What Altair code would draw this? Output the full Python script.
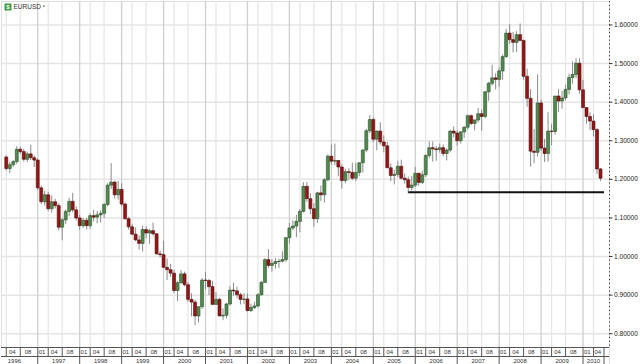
import altair as alt
import pandas as pd

symbol = "EURUSD"
first_month = "1996-04"

open_ = [
    1.258, 1.228, 1.238, 1.246, 1.278, 1.272, 1.252, 1.266, 1.256,
    1.250, 1.178, 1.142, 1.160, 1.124, 1.142, 1.132, 1.076, 1.095, 1.117, 1.143, 1.121,
    1.100, 1.080, 1.094, 1.080, 1.106, 1.102, 1.108, 1.112, 1.135, 1.185, 1.193, 1.160,
    1.174, 1.136, 1.098, 1.077, 1.058, 1.043, 1.034, 1.070, 1.061, 1.067, 1.059, 1.007,
    1.005, 0.972, 0.966, 0.957, 0.912, 0.932, 0.955, 0.927, 0.889, 0.882, 0.846, 0.870,
    0.939, 0.938, 0.922, 0.876, 0.889, 0.846, 0.848, 0.877, 0.913, 0.911, 0.901, 0.889,
    0.890, 0.860, 0.868, 0.872, 0.901, 0.933, 0.992, 0.977, 0.982, 0.987, 0.988, 0.992,
    1.049, 1.074, 1.079, 1.091, 1.117, 1.182, 1.150, 1.124, 1.098, 1.165, 1.160, 1.199,
    1.260, 1.247, 1.249, 1.232, 1.197, 1.220, 1.218, 1.203, 1.218, 1.243, 1.276, 1.326,
    1.355, 1.304, 1.325, 1.297, 1.287, 1.230, 1.210, 1.213, 1.234, 1.203, 1.199, 1.179,
    1.185, 1.216, 1.192, 1.212, 1.262, 1.282, 1.279, 1.277, 1.282, 1.267, 1.276, 1.325,
    1.320, 1.300, 1.323, 1.335, 1.365, 1.345, 1.354, 1.370, 1.363, 1.427, 1.449, 1.463,
    1.459, 1.481, 1.518, 1.579, 1.562, 1.555, 1.575, 1.560, 1.467, 1.410, 1.273, 1.270,
    1.398, 1.281, 1.267, 1.325, 1.324, 1.416, 1.403, 1.411, 1.433, 1.464, 1.472, 1.501,
    1.432, 1.386, 1.363, 1.351, 1.329, 1.227,
]
high_ = [
    1.262, 1.245, 1.250, 1.286, 1.285, 1.279, 1.272, 1.290, 1.262,
    1.254, 1.184, 1.170, 1.168, 1.158, 1.150, 1.138, 1.100, 1.122, 1.152, 1.165, 1.130,
    1.108, 1.100, 1.100, 1.112, 1.121, 1.118, 1.120, 1.138, 1.190, 1.242, 1.196, 1.196,
    1.190, 1.140, 1.103, 1.085, 1.075, 1.055, 1.080, 1.079, 1.072, 1.088, 1.060, 1.015,
    1.041, 0.995, 0.981, 0.966, 0.937, 0.965, 0.961, 0.934, 0.905, 0.888, 0.870, 0.944,
    0.960, 0.942, 0.937, 0.908, 0.893, 0.866, 0.880, 0.923, 0.932, 0.922, 0.906, 0.905,
    0.904, 0.878, 0.883, 0.905, 0.937, 0.996, 1.019, 0.993, 0.996, 0.994, 1.014, 1.050,
    1.087, 1.094, 1.108, 1.123, 1.193, 1.193, 1.164, 1.138, 1.168, 1.184, 1.203, 1.265,
    1.290, 1.293, 1.250, 1.239, 1.228, 1.229, 1.243, 1.243, 1.244, 1.278, 1.331, 1.367,
    1.360, 1.327, 1.348, 1.314, 1.297, 1.241, 1.225, 1.248, 1.251, 1.215, 1.207, 1.209,
    1.232, 1.216, 1.222, 1.264, 1.298, 1.298, 1.286, 1.293, 1.290, 1.280, 1.328, 1.337,
    1.327, 1.325, 1.338, 1.368, 1.368, 1.355, 1.385, 1.381, 1.428, 1.453, 1.497, 1.475,
    1.490, 1.524, 1.590, 1.602, 1.582, 1.584, 1.604, 1.562, 1.487, 1.434, 1.330, 1.472,
    1.406, 1.305, 1.374, 1.344, 1.416, 1.434, 1.429, 1.445, 1.474, 1.506, 1.514, 1.514,
    1.458, 1.387, 1.374, 1.369, 1.333, 1.229,
]
low_ = [
    1.222, 1.216, 1.232, 1.240, 1.266, 1.246, 1.245, 1.250, 1.232,
    1.172, 1.136, 1.132, 1.118, 1.114, 1.125, 1.068, 1.042, 1.085, 1.105, 1.115, 1.094,
    1.070, 1.074, 1.070, 1.072, 1.091, 1.086, 1.088, 1.100, 1.130, 1.175, 1.150, 1.148,
    1.130, 1.095, 1.070, 1.055, 1.040, 1.018, 1.013, 1.047, 1.033, 1.054, 1.005, 0.998,
    0.970, 0.939, 0.948, 0.905, 0.885, 0.930, 0.923, 0.883, 0.845, 0.8225, 0.829, 0.864,
    0.915, 0.900, 0.875, 0.876, 0.845, 0.835, 0.840, 0.873, 0.898, 0.892, 0.876, 0.877,
    0.858, 0.856, 0.864, 0.868, 0.899, 0.932, 0.971, 0.961, 0.969, 0.970, 0.985, 0.986,
    1.034, 1.069, 1.050, 1.063, 1.114, 1.142, 1.110, 1.077, 1.087, 1.144, 1.140, 1.195,
    1.238, 1.237, 1.208, 1.176, 1.190, 1.199, 1.198, 1.195, 1.208, 1.218, 1.270, 1.320,
    1.296, 1.275, 1.290, 1.270, 1.229, 1.195, 1.187, 1.206, 1.200, 1.189, 1.164, 1.171,
    1.180, 1.183, 1.188, 1.206, 1.255, 1.246, 1.248, 1.269, 1.260, 1.249, 1.270, 1.309,
    1.287, 1.293, 1.307, 1.329, 1.341, 1.327, 1.347, 1.326, 1.358, 1.403, 1.443, 1.433,
    1.440, 1.458, 1.515, 1.551, 1.529, 1.530, 1.558, 1.458, 1.388, 1.233, 1.242, 1.259,
    1.275, 1.245, 1.246, 1.288, 1.316, 1.374, 1.383, 1.405, 1.420, 1.448, 1.462, 1.422,
    1.385, 1.344, 1.327, 1.311, 1.214, 1.196,
]
close_ = [
    1.228, 1.238, 1.246, 1.278, 1.272, 1.252, 1.266, 1.256, 1.250,
    1.178, 1.142, 1.160, 1.124, 1.142, 1.132, 1.076, 1.095, 1.117, 1.143, 1.121, 1.100,
    1.080, 1.094, 1.080, 1.106, 1.102, 1.108, 1.112, 1.135, 1.185, 1.193, 1.160, 1.174,
    1.136, 1.098, 1.077, 1.058, 1.043, 1.034, 1.070, 1.061, 1.067, 1.059, 1.007, 1.005,
    0.972, 0.966, 0.957, 0.912, 0.932, 0.955, 0.927, 0.889, 0.882, 0.846, 0.870, 0.939,
    0.938, 0.922, 0.876, 0.889, 0.846, 0.848, 0.877, 0.913, 0.911, 0.901, 0.889, 0.890,
    0.860, 0.868, 0.872, 0.901, 0.933, 0.992, 0.977, 0.982, 0.987, 0.988, 0.992, 1.049,
    1.074, 1.079, 1.091, 1.117, 1.182, 1.150, 1.124, 1.098, 1.165, 1.160, 1.199, 1.260,
    1.247, 1.249, 1.232, 1.197, 1.220, 1.218, 1.203, 1.218, 1.243, 1.276, 1.326, 1.355,
    1.304, 1.325, 1.297, 1.287, 1.230, 1.210, 1.213, 1.234, 1.203, 1.199, 1.179, 1.185,
    1.216, 1.192, 1.212, 1.262, 1.282, 1.279, 1.277, 1.282, 1.267, 1.276, 1.325, 1.320,
    1.300, 1.323, 1.335, 1.365, 1.345, 1.354, 1.370, 1.363, 1.427, 1.449, 1.463, 1.459,
    1.481, 1.518, 1.579, 1.562, 1.555, 1.575, 1.560, 1.467, 1.410, 1.273, 1.270, 1.398,
    1.281, 1.267, 1.325, 1.324, 1.416, 1.403, 1.411, 1.433, 1.464, 1.472, 1.501, 1.432,
    1.386, 1.363, 1.351, 1.329, 1.227, 1.203,
]

price_ticks = [0.8, 0.9, 1.0, 1.1, 1.2, 1.3, 1.4, 1.5, 1.6]
support_level = 1.1665
support_from = "2005-11"

# ---------------------------------------------------------------- layout
PLOT_W = 608
PLOT_H = 346
TOTAL_H = 364
PX_PER_UNIT = 385.9
Y_TOP = 1.6 + 24 / PX_PER_UNIT
Y_BOTTOM = 1.6 - (TOTAL_H - 24) / PX_PER_UNIT

FONT = "Liberation Sans"
GREEN, GREEN_EDGE = "#4f8a4f", "#2c4d2c"
RED, RED_EDGE = "#951616", "#560c0c"
WICK = "#8a8a8a"

n = len(close_)
months = pd.period_range(first_month, periods=n, freq="M")
candles = pd.DataFrame({
    "i": list(range(n)),
    "open": open_, "high": high_, "low": low_, "close": close_,
})

xs = alt.Scale(domain=[-0.08, float(n)], nice=False, zero=False)
ys = alt.Scale(domain=[Y_BOTTOM, Y_TOP], nice=False, zero=False)

# vertical grid / box boundaries (Jan, Apr, Aug)
bounds = [k for k, m in enumerate(months) if m.month in (1, 4, 8)]
vgrid = pd.DataFrame({
    "i": bounds,
    "kind": ["major" if months[k].month == 1 else "minor" for k in bounds],
})
seg_rows = []
for j, s in enumerate(bounds):
    e = bounds[j + 1] if j + 1 < len(bounds) else n
    seg_rows.append({"c": (s + e) / 2, "label": f"{months[s].month:02d}"})
segs = pd.DataFrame(seg_rows)
sep1 = pd.DataFrame({"i": bounds + [n]})

jans = [k for k, m in enumerate(months) if m.month == 1]
year_rows = []
for j, s in enumerate(jans):
    e = jans[j + 1] if j + 1 < len(jans) else n
    year_rows.append({"c": (s + e) / 2, "label": str(months[s].year)})
years = pd.DataFrame(year_rows)
first_year = pd.DataFrame({"c": [0.0], "label": [str(months[0].year)]})
sep2 = pd.DataFrame({"i": jans + [n]})

hgrid = pd.DataFrame({"p": price_ticks, "label": [f"{p:.5f}" for p in price_ticks]})
support_start = list(months.astype(str)).index(support_from)
support = pd.DataFrame({"a": [support_start], "b": [float(n)], "p": [support_level]})
one = pd.DataFrame({"k": [0]})


def X(f):
    return alt.X(f, scale=xs, axis=None)


def Y(f):
    return alt.Y(f, scale=ys, axis=None)


grid_h = alt.Chart(hgrid).mark_rule(color="#e4e4e4", strokeWidth=1.5).encode(
    x=alt.value(0), x2=alt.value(PLOT_W), y=Y("p:Q"),
)
price_tick_marks = alt.Chart(hgrid).mark_rule(color="#333", strokeWidth=1).encode(
    x=alt.value(PLOT_W), x2=alt.value(PLOT_W + 3.5), y=Y("p:Q"),
)
price_labels = alt.Chart(hgrid).mark_text(font=FONT, fontSize=6.6, color="#222",
                                          align="left", baseline="middle").encode(
    x=alt.value(PLOT_W + 5), y=Y("p:Q"), text="label:N",
)
grid_v = alt.Chart(vgrid).mark_rule(strokeWidth=1.3).encode(
    x=X("i:Q"), y=alt.value(0), y2=alt.value(PLOT_H),
    color=alt.Color("kind:N", legend=None,
                    scale=alt.Scale(domain=["major", "minor"], range=["#cfcfcf", "#e6e6e6"])),
)
wicks = alt.Chart(candles).mark_rule(color=WICK, strokeWidth=1).encode(
    x=X("i:Q"), y=Y("low:Q"), y2="high:Q",
)
up = "datum.close >= datum.open"
bodies = alt.Chart(candles).mark_bar(size=3, strokeWidth=0.6).encode(
    x=X("i:Q"), y=Y("open:Q"), y2="close:Q",
    fill=alt.condition(up, alt.value(GREEN), alt.value(RED)),
    stroke=alt.condition(up, alt.value(GREEN_EDGE), alt.value(RED_EDGE)),
)
support_line = alt.Chart(support).mark_rule(color="#111", strokeWidth=2).encode(
    x=X("a:Q"), x2="b:Q", y=Y("p:Q"),
)
axis_line = alt.Chart(one).mark_rule(color="#333", strokeWidth=1, strokeDash=[1.2, 2.66]).encode(
    x=alt.value(PLOT_W + 0.5), y=alt.value(0), y2=alt.value(PLOT_H),
)

# bottom time axis
axis_bg = alt.Chart(one).mark_rect(color="white").encode(
    x=alt.value(0), x2=alt.value(PLOT_W), y=alt.value(PLOT_H), y2=alt.value(TOTAL_H),
)
hlines = alt.Chart(pd.DataFrame({"yy": [PLOT_H + 0.5, 355.5]})).mark_rule(color="#555", strokeWidth=1).encode(
    x=alt.value(0), x2=alt.value(PLOT_W), y=alt.Y("yy:Q", scale=None),
)
sep_row1 = alt.Chart(sep1).mark_rule(color="#555", strokeWidth=1).encode(
    x=X("i:Q"), y=alt.value(PLOT_H), y2=alt.value(355.5),
)
sep_row2 = alt.Chart(sep2).mark_rule(color="#555", strokeWidth=1).encode(
    x=X("i:Q"), y=alt.value(355.5), y2=alt.value(TOTAL_H),
)
lab_row1 = alt.Chart(segs).mark_text(font=FONT, fontSize=6, color="#333", dx=-1, baseline="middle").encode(
    x=X("c:Q"), y=alt.value(351.2), text="label:N",
)
lab_row2 = alt.Chart(years).mark_text(font=FONT, fontSize=6, color="#333", baseline="middle").encode(
    x=X("c:Q"), y=alt.value(360), text="label:N",
)
lab_first_year = alt.Chart(first_year).mark_text(font=FONT, fontSize=6, color="#333", align="left",
                                                 dx=1.5, baseline="middle").encode(
    x=X("c:Q"), y=alt.value(360), text="label:N",
)

# title tag
icon = alt.Chart(one).mark_rect(color="#3e9e46").encode(
    x=alt.value(3.5), x2=alt.value(10.5), y=alt.value(2.5), y2=alt.value(9.5),
)
icon_txt = alt.Chart(one).mark_text(text="$", font=FONT, fontSize=6, color="white", fontWeight="bold").encode(
    x=alt.value(7), y=alt.value(6.2),
)
title_txt = alt.Chart(one).mark_text(text=symbol, font=FONT, fontSize=6.5, color="#333",
                                     align="left", baseline="middle").encode(
    x=alt.value(12.5), y=alt.value(5.8),
)
caret = alt.Chart(one).mark_point(shape="triangle-down", size=6, filled=True, color="#333").encode(
    x=alt.value(43), y=alt.value(5.5),
)

chart = alt.layer(
    grid_h, grid_v, wicks, bodies, support_line, axis_line, price_tick_marks, price_labels,
    axis_bg, hlines, sep_row1, sep_row2, lab_row1, lab_row2, lab_first_year,
    icon, icon_txt, title_txt, caret,
).properties(
    width=PLOT_W, height=TOTAL_H, padding=0,
).configure_view(strokeWidth=0).configure(background="white")

chart.save("out.html", embed_options={"renderer": "svg", "actions": False})
